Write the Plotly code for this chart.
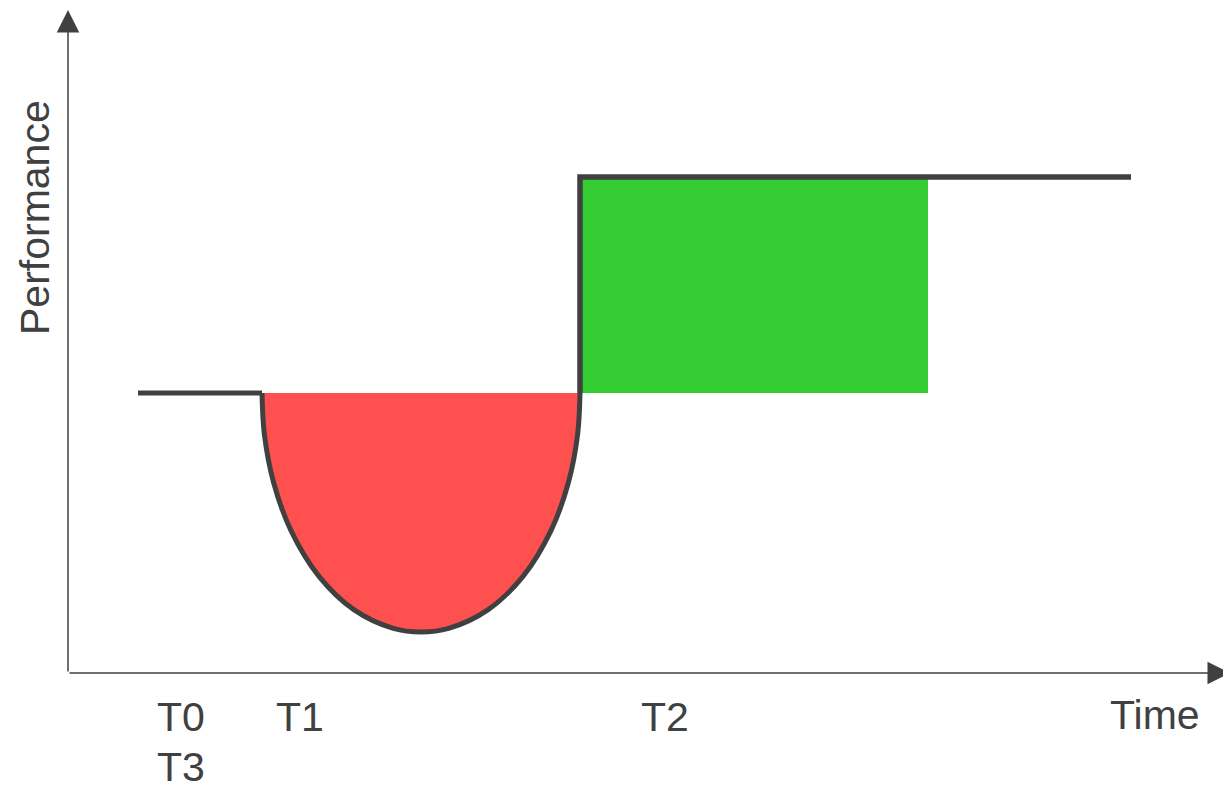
import plotly.graph_objects as go

# values (1 unit ~ 100 px)
baseline = 2.8
top_level = 4.96

flat_x = [0.70, 1.94]
flat_y = [baseline, baseline]

# the dip between T1 and T2
dip_x = [1.94, 1.964, 2.056, 2.228, 2.508, 2.858, 3.254, 3.53,
         3.806, 4.202, 4.552, 4.832, 5.004, 5.096, 5.12]
dip_y = [2.80, 2.385, 1.905, 1.429, 0.969, 0.634, 0.446, 0.41,
         0.446, 0.634, 0.969, 1.429, 1.905, 2.385, 2.80]

step_x = [5.12, 5.12, 10.63]
step_y = [baseline, top_level, top_level]

gain_x = [5.12, 8.60, 8.60, 5.12]
gain_y = [baseline, baseline, top_level, top_level]

tick_vals = [1.13, 2.32, 5.97]
tick_text = ["T0", "T1", "T2"]

line_col = "#404040"
font = dict(family="Liberation Sans, Arial, sans-serif", size=41, color=line_col)

fig = go.Figure()

# red area (loss)
fig.add_trace(go.Scatter(
    x=dip_x, y=dip_y, mode="lines", line=dict(shape="spline", width=0, color="#FF5050"),
    fill="toself", fillcolor="#FF5050", hoverinfo="skip"))

# green area (gain)
fig.add_trace(go.Scatter(
    x=gain_x, y=gain_y, mode="lines", line=dict(width=0, color="#33CC33"),
    fill="toself", fillcolor="#33CC33", hoverinfo="skip"))

# performance line
fig.add_trace(go.Scatter(x=flat_x, y=flat_y, mode="lines",
                         line=dict(color=line_col, width=5)))
fig.add_trace(go.Scatter(x=dip_x, y=dip_y, mode="lines",
                         line=dict(color=line_col, width=5, shape="spline")))
fig.add_trace(go.Scatter(x=step_x, y=step_y, mode="lines",
                         line=dict(color=line_col, width=5.5)))

# axis arrows
fig.add_annotation(x=0, y=1, xref="paper", yref="paper", ax=0, ay=663,
                   showarrow=True, arrowhead=2, arrowsize=3, arrowwidth=1.5,
                   arrowcolor=line_col, text="")
fig.add_annotation(x=1, y=0, xref="paper", yref="paper", ax=-1163, ay=0,
                   showarrow=True, arrowhead=2, arrowsize=3, arrowwidth=1.5,
                   arrowcolor=line_col, text="")

fig.add_annotation(x=1.13, y=0, xref="x", yref="paper", yanchor="top", yshift=-69,
                   text="T3", showarrow=False, font=font)
fig.add_annotation(x=10.87, y=0, xref="x", yref="paper", yanchor="top", yshift=-17,
                   text="Time", showarrow=False, font=font)
fig.add_annotation(x=-0.33 / 11.63, y=4.55 / 6.63, xref="paper", yref="paper",
                   xanchor="center", yanchor="middle",
                   textangle=-90, text="Performance", showarrow=False, font=font)

# the page puts the plot 8 px in from the top-left corner
fig.update_layout(
    width=1223, height=781,
    margin=dict(l=60, r=0, t=2, b=116),
    plot_bgcolor="white", paper_bgcolor="white",
    showlegend=False,
)
fig.update_xaxes(range=[0, 11.63], showgrid=False, zeroline=False, showline=False,
                 tickvals=tick_vals, ticktext=tick_text, tickfont=font, ticks="",
                 ticklabelstandoff=16)
fig.update_yaxes(range=[0, 6.63], showgrid=False, zeroline=False, showline=False,
                 showticklabels=False)

fig.write_html("out.html")
